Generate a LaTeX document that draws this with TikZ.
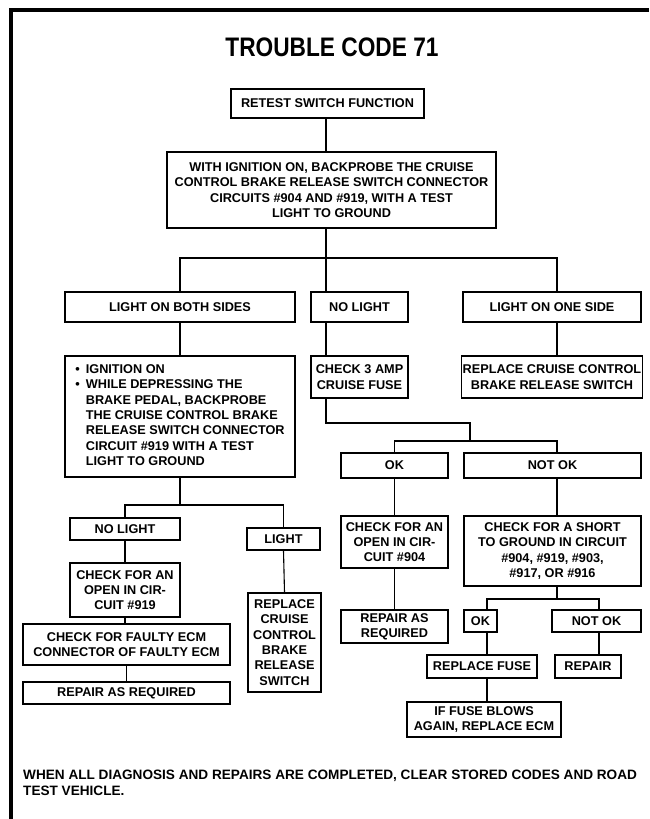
\documentclass[tikz,border=0pt]{standalone}
\usepackage{fontspec}
\setmainfont{Liberation Sans}
\newcommand\chartfont{\fontsize{12.7}{15.3}\selectfont\bfseries}
\newcommand\notefont{\fontsize{13.6}{15.3}\selectfont\bfseries}
\begin{document}
\begin{tikzpicture}[x=1pt,y=-1pt,
  box/.style={draw, line width=1.1pt, inner sep=1pt, align=center, font=\chartfont},
  wh/.style 2 args={minimum width=#1pt, minimum height=#2pt},
  link/.style={line width=1.1pt},
  frame/.style={line width=4.5pt},
]
\useasboundingbox (0,0) rectangle (649,819);

% page frame
\draw[frame] (11,819) -- (11,10) -- (649,10);

% heading
\node[font=\bfseries\fontsize{22.7}{26}\selectfont, anchor=base, inner sep=0pt] (title) at (332,56)
  {\scalebox{1}[1.18]{TROUBLE CODE 71}};

% upper part
\node[box, wh={193}{29}] (retest) at (327.5,103.5) {RETEST SWITCH FUNCTION};
\node[box, wh={329}{76}] (withign) at (331.5,190) {WITH IGNITION ON, BACKPROBE THE CRUISE\\CONTROL BRAKE RELEASE SWITCH CONNECTOR\\CIRCUITS \#904 AND \#919, WITH A TEST\\LIGHT TO GROUND};

\node[box, wh={230}{30}] (both) at (180,307) {LIGHT ON BOTH SIDES};
\node[box, wh={97}{30}] (nolight) at (359.5,307) {NO LIGHT};
\node[box, wh={178}{30}] (oneside) at (552,307) {LIGHT ON ONE SIDE};

\node[box, wh={230}{121}, align=left] (bullet) at (180,416.5) {%
  \begin{tabular}{@{}l@{\hspace{6pt}}l@{}}
  \textbullet & IGNITION ON\\
  \textbullet & WHILE DEPRESSING THE\\
   & BRAKE PEDAL, BACKPROBE\\
   & THE CRUISE CONTROL BRAKE\\
   & RELEASE SWITCH CONNECTOR\\
   & CIRCUIT \#919 WITH A TEST\\
   & LIGHT TO GROUND
  \end{tabular}};
\node[box, wh={97}{42}] (fuse3) at (359.5,377) {CHECK 3 AMP\\CRUISE FUSE};
\node[box, wh={178}{42}] (replcruise) at (552,377) {REPLACE CRUISE CONTROL\\BRAKE RELEASE SWITCH};

% left branch
\node[box, wh={110}{22}] (nolight2) at (125,529) {NO LIGHT};
\node[box, wh={73}{22}] (light2) at (283.5,539) {LIGHT};
\node[box, wh={110}{54}] (open919) at (125,590) {CHECK FOR AN\\OPEN IN CIR-\\CUIT \#919};
\node[box, wh={73}{99}] (replswitch) at (284.5,642.5) {REPLACE\\CRUISE\\CONTROL\\BRAKE\\RELEASE\\SWITCH};
\node[box, wh={207}{41}] (faultyecm) at (126.5,644.5) {CHECK FOR FAULTY ECM\\CONNECTOR OF FAULTY ECM};
\node[box, wh={207}{22}] (repairreq1) at (126.5,693) {REPAIR AS REQUIRED};

% fuse branch
\node[box, wh={107}{25}] (ok1) at (394.5,465.5) {OK};
\node[box, wh={177}{25}] (notok1) at (552.5,465.5) {NOT OK};
\node[box, wh={107}{52}] (open904) at (394.5,542) {CHECK FOR AN\\OPEN IN CIR-\\CUIT \#904};
\node[box, wh={177}{70}] (short) at (552.5,551) {CHECK FOR A SHORT\\TO GROUND IN CIRCUIT\\\#904, \#919, \#903,\\\#917, OR \#916};
\node[box, wh={107}{33}] (repair904) at (394.5,626.5) {REPAIR AS\\REQUIRED};
\node[box, wh={33}{22}] (ok2) at (480.5,621) {OK};
\node[box, wh={89}{22}] (notok2) at (596.5,621) {NOT OK};
\node[box, wh={110}{23}] (replfuse) at (482,666.5) {REPLACE FUSE};
\node[box, wh={66}{23}] (repair) at (588,666.5) {REPAIR};
\node[box, wh={154}{35}] (fuseblows) at (484,719.5) {IF FUSE BLOWS\\AGAIN, REPLACE ECM};

% closing note
\node[anchor=north west, align=left, inner sep=0pt, font=\notefont] (note) at (23,770)
  {WHEN ALL DIAGNOSIS AND REPAIRS ARE COMPLETED, CLEAR STORED CODES AND ROAD\\TEST VEHICLE.};

% connector columns and junctions
\coordinate (mc) at (326,0);
\coordinate (rc) at (557,0);
\coordinate (fc) at (487,0);
\coordinate (nc) at (599,0);
\coordinate (h1) at (326,258);
\coordinate (h2) at (180,505);
\coordinate (h3) at (470,423);
\coordinate (h4) at (470,441);
\coordinate (h5) at (557,599);

\draw[link] (retest.south -| mc) -- (withign.north -| mc);
\draw[link] (withign.south -| mc) -- (h1);
\draw[link] (both.north) |- (h1) -| (oneside.north -| rc);
\draw[link] (h1) -- (nolight.north -| mc);
\draw[link] (both.south) -- (bullet.north);
\draw[link] (nolight.south -| mc) -- (fuse3.north -| mc);
\draw[link] (oneside.south -| rc) -- (replcruise.north -| rc);

\draw[link] (bullet.south) -- (h2);
\draw[link] (nolight2.north) |- (h2) -| (light2.north);
\draw[link] (nolight2.south) -- (open919.north);
\draw[link] (open919.south) -- (open919.south |- faultyecm.north);
\draw[link] (faultyecm.south) -- (repairreq1.north);
\draw[link] (light2.south) -- (replswitch.north);

\draw[link] (fuse3.south -| mc) |- (h3) -- (h4);
\draw[link] (ok1.north) |- (h4) -| (notok1.north -| rc);
\draw[link] (ok1.south) -- (open904.north);
\draw[link] (open904.south) -- (repair904.north);
\draw[link] (notok1.south -| rc) -- (short.north -| rc);
\draw[link] (short.south -| rc) -- (h5);
\draw[link] (ok2.north -| fc) |- (h5) -| (notok2.north -| nc);
\draw[link] (ok2.south -| fc) -- (replfuse.north -| fc);
\draw[link] (replfuse.south -| fc) -- (fuseblows.north -| fc);
\draw[link] (notok2.south -| nc) -- (repair.north -| nc);
\end{tikzpicture}
\end{document}
